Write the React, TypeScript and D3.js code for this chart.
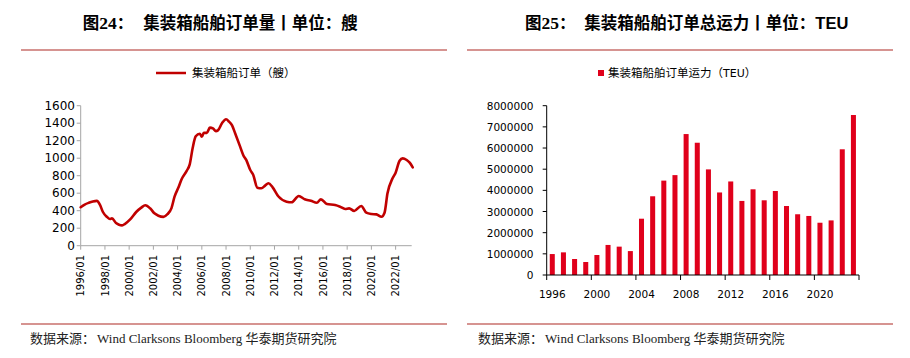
import * as d3 from "d3";

// 集装箱船订单（艘）, monthly readings
const ORDER_MONTHS = [
  "1996-01", "1996-05", "1996-09", "1997-01", "1997-05", "1997-08", "1997-11", "1998-03", "1998-06", "1998-08",
  "1998-12", "1999-03", "1999-06", "1999-09", "2000-02", "2000-08", "2001-01", "2001-05", "2001-10", "2002-02",
  "2002-06", "2002-11", "2003-03", "2003-07", "2003-10", "2004-02", "2004-05", "2004-10", "2005-01", "2005-04",
  "2005-07", "2005-11", "2006-01", "2006-03", "2006-06", "2006-09", "2006-12", "2007-03", "2007-05", "2007-09",
  "2008-01", "2008-04", "2008-07", "2008-10", "2009-03", "2009-06", "2009-09", "2010-01", "2010-04", "2010-08",
  "2010-12", "2011-04", "2011-07", "2011-11", "2012-05", "2013-01", "2013-06", "2014-01", "2014-07", "2015-01",
  "2015-07", "2015-11", "2016-05", "2017-01", "2017-06", "2017-11", "2018-03", "2018-08", "2019-03", "2019-08",
  "2020-01", "2020-06", "2020-11", "2021-02", "2021-05", "2021-10", "2022-01", "2022-05", "2022-08", "2022-12",
  "2023-03", "2023-06",
];
const ORDER_SHIPS = [
  440, 470, 490, 505, 512, 470, 385, 330, 305, 312,
  260, 240, 232, 250, 300, 385, 435, 462, 425, 370,
  343, 330, 360, 430, 560, 670, 760, 855, 930, 1120,
  1250, 1280, 1245, 1290, 1290, 1350, 1340, 1310, 1318, 1400,
  1445, 1418, 1375, 1285, 1132, 1037, 980, 865, 808, 663,
  656, 690, 713, 670, 562, 503, 496, 568, 530, 514,
  491, 530, 476, 465, 446, 420, 427, 397, 454, 377,
  362, 358, 331, 377, 599, 770, 834, 971, 998, 979,
  949, 896,
];
const SHIP_TICKS = [0, 200, 400, 600, 800, 1000, 1200, 1400, 1600];
const SHIP_TICK_YEARS = [1996, 1998, 2000, 2002, 2004, 2006, 2008, 2010, 2012, 2014, 2016, 2018, 2020, 2022];

// 集装箱船舶订单运力（TEU）, yearly
const TEU_YEARS = [
  "1996", "1997", "1998", "1999", "2000", "2001", "2002", "2003", "2004", "2005",
  "2006", "2007", "2008", "2009", "2010", "2011", "2012", "2013", "2014", "2015",
  "2016", "2017", "2018", "2019", "2020", "2021", "2022", "2023",
];
const TEU_VALUES = [
  990000, 1070000, 756000, 614000, 945000, 1420000, 1340000, 1130000, 2660000, 3720000,
  4460000, 4720000, 6660000, 6250000, 4990000, 3900000, 4420000, 3500000, 4050000, 3530000,
  3970000, 3260000, 2870000, 2790000, 2470000, 2580000, 5940000, 7560000,
];
const TEU_TICKS = [0, 1000000, 2000000, 3000000, 4000000, 5000000, 6000000, 7000000, 8000000];
const TEU_LABEL_YEARS = ["1996", "2000", "2004", "2008", "2012", "2016", "2020"];

const W = 910;
const H = 358;
const RULE = "#c9706d";
const LINE_RED = "#c00000";
const BAR_RED = "#e0001b";
const GREY_AXIS = "#a6a6a6";
const NUM_FONT = "'DejaVu Sans', sans-serif";
const CJK = "'Noto Sans CJK SC', sans-serif";
const SERIF = "'Liberation Serif', 'Noto Sans CJK SC', serif";

const parseMonth = d3.timeParse("%Y-%m");

function Title({ x, num, x2, text }: { x: number; num: string; x2: number; text: React.ReactNode }) {
  return (
    <g fontWeight="700" fill="#000">
      <text x={x} y={29} fontSize="16.5" fontFamily={CJK}>
        图<tspan fontFamily={SERIF} fontSize="17.5">{num}</tspan>：
      </text>
      <text x={x2} y={29} fontSize="16.5" fontFamily={CJK}>
        {text}
      </text>
    </g>
  );
}

function Footer({ x }: { x: number }) {
  return (
    <text x={x} y={343} fontSize="13" fill="#222" fontFamily={CJK}>
      数据来源：
      <tspan fontFamily={SERIF} dx="2">Wind Clarksons Bloomberg </tspan>
      华泰期货研究院
    </text>
  );
}

function ShipChart() {
  const data = ORDER_MONTHS.map((m, i) => ({ date: parseMonth(m) as Date, value: ORDER_SHIPS[i] }));
  const x = d3.scaleTime().domain([new Date(1996, 0, 1), new Date(2023, 4, 1)]).range([80.7, 411.7]);
  const y = d3.scaleLinear().domain([0, 1600]).range([245.7, 105.7]);
  const line = d3
    .line<{ date: Date; value: number }>()
    .x((d) => x(d.date))
    .y((d) => y(d.value))
    .curve(d3.curveMonotoneX);

  return (
    <g>
      {/* legend */}
      <line x1={156} x2={186} y1={73} y2={73} stroke={LINE_RED} strokeWidth="2.5" />
      <text x={192} y={77} fontSize="11.5" fontFamily={CJK} fill="#000">
        集装箱船订单（艘）
      </text>

      {/* y axis */}
      <line x1={x.range()[0]} x2={x.range()[0]} y1={y(0)} y2={y(1600)} stroke={GREY_AXIS} />
      {SHIP_TICKS.map((t) => (
        <g key={t}>
          <line x1={x.range()[0] - 4} x2={x.range()[0]} y1={y(t)} y2={y(t)} stroke={GREY_AXIS} />
          <text x={75} y={y(t) + 4} textAnchor="end" fontSize="12" fontFamily={NUM_FONT} fill="#000">
            {t}
          </text>
        </g>
      ))}

      {/* x axis */}
      <line x1={x.range()[0]} x2={x.range()[1]} y1={y(0)} y2={y(0)} stroke={GREY_AXIS} />
      {SHIP_TICK_YEARS.map((yr) => {
        const px = x(new Date(yr, 0, 1));
        return (
          <g key={yr}>
            <line x1={px} x2={px} y1={y(0)} y2={y(0) + 4} stroke={GREY_AXIS} />
            <text
              transform={`translate(${px + 3.6},255) rotate(-90)`}
              textAnchor="end"
              fontSize="10"
              fontFamily={NUM_FONT}
              fill="#000"
            >
              {`${yr}/01`}
            </text>
          </g>
        );
      })}

      <path d={line(data) ?? undefined} fill="none" stroke={LINE_RED} strokeWidth="2.6" strokeLinejoin="round" strokeLinecap="round" />
    </g>
  );
}

function TeuChart() {
  const x = d3.scaleBand<string>().domain(TEU_YEARS).range([546.7, 859]).paddingInner(0.55).paddingOuter(0.275);
  const y = d3.scaleLinear().domain([0, 8000000]).range([275, 105.7]);
  const gap = (x.step() - x.bandwidth()) / 2;
  const boundaries = TEU_YEARS.filter((_, i) => i % 4 === 0).map((yr) => (x(yr) ?? 0) - gap);
  boundaries.push(x.range()[1]);

  return (
    <g>
      {/* legend */}
      <rect x={598} y={70} width={6} height={6} fill={BAR_RED} />
      <text x={608} y={77} fontSize="11.5" fontFamily={CJK} fill="#000">
        集装箱船舶订单运力（<tspan fontFamily={NUM_FONT} fontSize="11">TEU</tspan>）
      </text>

      {TEU_YEARS.map((yr, i) => (
        <rect key={yr} x={x(yr)} y={y(TEU_VALUES[i])} width={x.bandwidth()} height={y(0) - y(TEU_VALUES[i])} fill={BAR_RED} />
      ))}

      {/* y axis */}
      <line x1={x.range()[0]} x2={x.range()[0]} y1={y(0)} y2={y(8000000)} stroke="#000" />
      {TEU_TICKS.map((t) => (
        <g key={t}>
          <line x1={x.range()[0] - 4} x2={x.range()[0]} y1={y(t)} y2={y(t)} stroke="#000" />
          <text x={533.5} y={y(t) + 4} textAnchor="end" fontSize="10.5" fontFamily={NUM_FONT} fill="#000">
            {t}
          </text>
        </g>
      ))}

      {/* x axis */}
      <line x1={x.range()[0]} x2={x.range()[1]} y1={y(0)} y2={y(0)} stroke="#000" />
      {boundaries.map((b, i) => (
        <line key={i} x1={b} x2={b} y1={y(0)} y2={y(0) + 5} stroke="#000" />
      ))}
      {TEU_LABEL_YEARS.map((yr) => (
        <text key={yr} x={(x(yr) ?? 0) + x.bandwidth() / 2} y={298} textAnchor="middle" fontSize="10.5" fontFamily={NUM_FONT} fill="#000">
          {yr}
        </text>
      ))}
    </g>
  );
}

export default function App() {
  return (
    <svg width={W} height={H} viewBox={`0 0 ${W} ${H}`} style={{ position: "absolute", left: 0, top: 0, background: "#fff" }}>
      <rect width={W} height={H} fill="#fff" />

      <Title x={82.7} num="24" x2={143.3} text="集装箱船舶订单量丨单位：艘" />
      <Title x={525} num="25" x2={584.3} text={<>集装箱船舶订单总运力丨单位：<tspan fontFamily="'Liberation Sans', sans-serif">TEU</tspan></>} />

      <line x1={21} x2={447} y1={50} y2={50} stroke={RULE} strokeWidth="1.5" />
      <line x1={467} x2={893} y1={50} y2={50} stroke={RULE} strokeWidth="1.5" />

      <ShipChart />
      <TeuChart />

      <line x1={21} x2={447} y1={324} y2={324} stroke={RULE} strokeWidth="1.5" />
      <line x1={467} x2={893} y1={324} y2={324} stroke={RULE} strokeWidth="1.5" />

      <Footer x={30} />
      <Footer x={478} />
    </svg>
  );
}
